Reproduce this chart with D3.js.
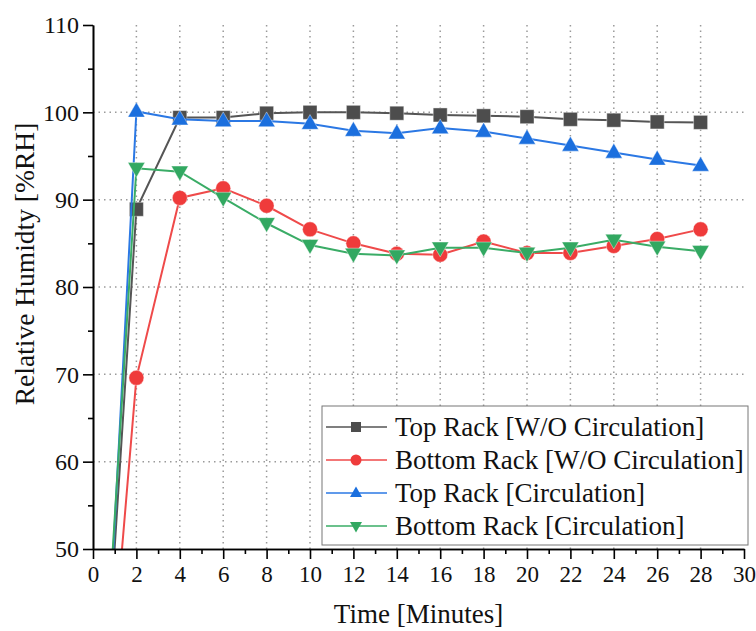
<!DOCTYPE html>
<html><head><meta charset="utf-8">
<script src="https://cdn.jsdelivr.net/npm/d3@7"></script>
<style>
html,body{margin:0;padding:0;background:#fff;}
svg text{font-family:"Times New Roman","Liberation Serif",Tinos,serif;fill:#111;}
</style></head>
<body><svg id="c" width="756" height="631"></svg>
<script>
// ---- data ----
const times = [0, 2, 4, 6, 8, 10, 12, 14, 16, 18, 20, 22, 24, 26, 28];
const topRackWO    = [11.5, 88.9, 99.4, 99.4, 99.9, 100.0, 100.0, 99.9, 99.7, 99.6, 99.5, 99.2, 99.1, 98.9, 98.85];
const bottomRackWO = [10.5, 69.6, 90.2, 91.3, 89.3, 86.6, 85.0, 83.8, 83.7, 85.2, 83.9, 83.9, 84.7, 85.5, 86.6];
const topRackC     = [5.5, 100.1, 99.2, 99.0, 99.0, 98.7, 97.9, 97.6, 98.2, 97.8, 97.0, 96.2, 95.4, 94.6, 93.9];
const bottomRackC  = [13.5, 93.6, 93.2, 90.2, 87.3, 84.8, 83.8, 83.6, 84.5, 84.5, 83.9, 84.5, 85.4, 84.6, 84.1];
const seriesNames = ["Top Rack [W/O Circulation]", "Bottom Rack [W/O Circulation]", "Top Rack [Circulation]", "Bottom Rack [Circulation]"];
const xTicks = [0,2,4,6,8,10,12,14,16,18,20,22,24,26,28,30];
const yTicks = [50,60,70,80,90,100,110];
const xTitle = "Time [Minutes]";
const yTitle = "Relative Humidty [%RH]";

const series = [
  {name: seriesNames[0], values: topRackWO,    color: "#4d4d4d", line: "#555555", shape: "square"},
  {name: seriesNames[1], values: bottomRackWO, color: "#ef3b3b", line: "#ef4a4a", shape: "circle"},
  {name: seriesNames[2], values: topRackC,     color: "#1b6fde", line: "#2b78e4", shape: "triUp"},
  {name: seriesNames[3], values: bottomRackC,  color: "#32a861", line: "#3aac66", shape: "triDown"}
];

const svg = d3.select("#c");
const L = 93, R = 744, T = 25, B = 549;
const x = d3.scaleLinear().domain([0,30]).range([L,R]);
const y = d3.scaleLinear().domain([50,110]).range([B,T]);

// grid
const grid = svg.append("g");
grid.selectAll("line.v").data(xTicks.filter(d=>d>0&&d<30)).join("line")
  .attr("x1",d=>x(d)).attr("x2",d=>x(d)).attr("y1",T).attr("y2",B)
  .attr("stroke","#9a9a9a").attr("stroke-width",1.5).attr("stroke-dasharray","1.5,4");
grid.selectAll("line.h").data(yTicks.filter(d=>d>50&&d<110)).join("line")
  .attr("y1",d=>y(d)).attr("y2",d=>y(d)).attr("x1",L).attr("x2",R)
  .attr("stroke","#9a9a9a").attr("stroke-width",1.5).attr("stroke-dasharray","1.5,4");

// clip
svg.append("clipPath").attr("id","clip").append("rect")
  .attr("x",L).attr("y",T-12).attr("width",R-L+12).attr("height",B-T+12);

function sym(shape, size){
  const s = size;
  if (shape==="square") return d3.symbol(d3.symbolSquare, s*s)();
  if (shape==="circle") return d3.symbol(d3.symbolCircle, Math.PI*(s/2)*(s/2))();
  const h = s*0.87, w = s;
  if (shape==="triUp") return `M0,${-h*0.62}L${w/2},${h*0.38}L${-w/2},${h*0.38}Z`;
  return `M0,${h*0.62}L${w/2},${-h*0.38}L${-w/2},${-h*0.38}Z`;
}

const plot = svg.append("g").attr("clip-path","url(#clip)");
const lineGen = d3.line().x((d,i)=>x(times[i])).y(d=>y(d));
series.forEach(s=>{
  const g = plot.append("g");
  g.append("path").attr("d", lineGen(s.values)).attr("fill","none")
    .attr("stroke", s.line).attr("stroke-width", 2);
  const sz = s.shape==="square"?14: s.shape==="circle"?15: 17;
  g.selectAll("path.m").data(s.values).join("path")
    .attr("transform",(d,i)=>`translate(${x(times[i])},${y(d)})`)
    .attr("d", sym(s.shape, sz)).attr("fill", s.color)
    .attr("stroke","#ffffff").attr("stroke-opacity",0.5).attr("stroke-width",0.8);
});

// axes
const xAxis = svg.append("g").attr("transform",`translate(0,${B})`)
  .call(d3.axisBottom(x).tickValues(xTicks).tickSize(10).tickSizeOuter(0).tickPadding(6).tickFormat(d3.format("d")));
svg.append("g").attr("transform",`translate(0,${B})`)
  .call(d3.axisBottom(x).tickValues(d3.range(1,30,2)).tickSize(5).tickSizeOuter(0).tickFormat(""));
const yAxis = svg.append("g").attr("transform",`translate(${L},0)`)
  .call(d3.axisLeft(y).tickValues(yTicks).tickSize(10).tickSizeOuter(0).tickPadding(4).tickFormat(d3.format("d")));
svg.append("g").attr("transform",`translate(${L},0)`)
  .call(d3.axisLeft(y).tickValues(d3.range(55,110,10)).tickSize(5).tickSizeOuter(0).tickFormat(""));
svg.selectAll(".domain").attr("stroke","#000").attr("stroke-width",1.6);
svg.selectAll(".tick line").attr("stroke","#000").attr("stroke-width",1.6);
svg.selectAll("g").attr("font-family",null);
xAxis.selectAll("text").attr("font-size",23).attr("fill","#111").attr("dy","0.75em");
yAxis.selectAll("text").attr("font-size",24).attr("fill","#111");

// titles
svg.append("text").attr("x",(L+R)/2).attr("y",623).attr("text-anchor","middle")
  .attr("font-size",27).text(xTitle);
svg.append("text").attr("transform",`translate(34,${264}) rotate(-90)`).attr("text-anchor","middle")
  .attr("font-size",27.5).text(yTitle);

// legend
const lg = svg.append("g");
lg.append("rect").attr("x",322).attr("y",406).attr("width",426).attr("height",139)
  .attr("fill","#fff").attr("stroke","#777").attr("stroke-width",1);
series.forEach((s,i)=>{
  const cy = 427 + i*33;
  lg.append("line").attr("x1",326).attr("x2",387).attr("y1",cy).attr("y2",cy)
    .attr("stroke",s.line).attr("stroke-width",1.6);
  const sz = s.shape==="square"?10: s.shape==="circle"?11: 12;
  lg.append("path").attr("transform",`translate(356,${cy})`).attr("d",sym(s.shape,sz)).attr("fill",s.color);
  lg.append("text").attr("x",395).attr("y",cy).attr("dy","0.35em").attr("font-size",27).text(s.name);
});
</script></body></html>
